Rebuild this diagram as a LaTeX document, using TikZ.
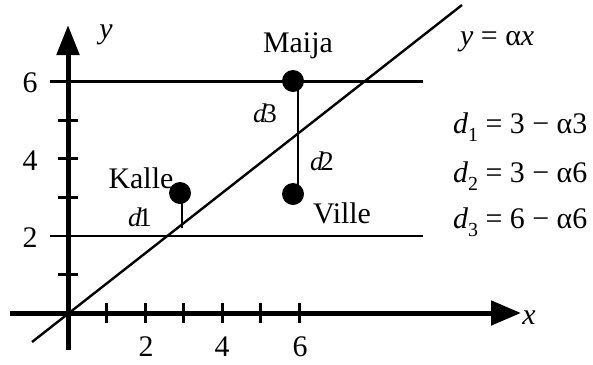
\documentclass[tikz,border=0pt]{standalone}
\usepackage{fontspec}
\setmainfont{Liberation Serif}
\usetikzlibrary{arrows.meta}
\newcommand\dsub[1]{\textit{d}\raisebox{-0.3em}{\fontsize{20}{20}\selectfont #1}}
\newcommand\dlab[1]{\textit{d}\kern-0.12em#1}
\begin{document}
\begin{tikzpicture}[x=1bp,y=-1bp,
  axis/.style={line width=5bp},
  plotline/.style={line width=2.4bp},
  tickmark/.style={line width=3bp},
  dot/.style={circle,fill=black,inner sep=0pt,minimum size=22bp},
  lbl/.style={inner sep=0pt,font=\fontsize{30}{30}\selectfont},
  smalllbl/.style={inner sep=0pt,font=\fontsize{27}{27}\selectfont},
  ]
\useasboundingbox (0,0) rectangle (593,364);
% axes
\coordinate (xs) at (10,313);
\coordinate (xe) at (521,313);
\coordinate (ys) at (68,350);
\coordinate (ye) at (68,25);
\draw[axis,-{Triangle[length=30bp,width=24bp]}] (xs) -- (xe);
\draw[axis,-{Triangle[length=30bp,width=22bp]}] (ys) -- (ye);
% x ticks
\foreach \i in {1,...,6} \draw[tickmark] ({68+38.5*\i},303) -- ({68+38.5*\i},323);
% y ticks
\foreach \i in {1,3,4,5} \draw[tickmark] (58,{313-38.6*\i}) -- (78,{313-38.6*\i});
% horizontal lines y=6, y=2
\coordinate (h6a) at (50,81.4);
\coordinate (h6b) at (423,81.4);
\coordinate (h2a) at (50,235.8);
\coordinate (h2b) at (423,235.8);
\draw[plotline] (h6a) -- (h6b);
\draw[plotline] (h2a) -- (h2b);
% diagonal y = alpha x
\coordinate (da) at (32,342);
\coordinate (db) at (462,5);
\draw[plotline] (da) -- (db);
% distances
\coordinate (k1) at (182,193);
\coordinate (k2) at (182,228);
\draw[plotline] (k1) -- (k2);
\coordinate (m1) at (298,81);
\coordinate (v1) at (298,194);
\draw[plotline] (m1) -- (v1);
% points
\node[dot] (kalle) at (180,193) {};
\node[dot] (maija) at (293,81) {};
\node[dot] (ville) at (293,194) {};
% labels
\node[lbl] (ylab) at (106,35) {\textit{y}};
\node[lbl] (xlab) at (529,318) {\textit{x}};
\node[lbl] (y6) at (30,83) {6};
\node[lbl] (y4) at (30,161) {4};
\node[lbl] (y2) at (30,238) {2};
\node[lbl,anchor=north] (x2) at (146,337) {2};
\node[lbl,anchor=north] (x4) at (222,337) {4};
\node[lbl,anchor=north] (x6) at (300,337) {6};
\node[lbl] (tmaija) at (298,46) {Maija};
\node[lbl] (tkalle) at (141,178) {Kalle};
\node[lbl] (tville) at (342,213) {Ville};
\node[smalllbl] (d1) at (140,217) {\dlab{1}};
\node[smalllbl] (d3) at (265,113) {\dlab{3}};
\node[smalllbl] (d2) at (322,161) {\dlab{2}};
\node[lbl,anchor=base west] (eqy) at (460,45) {\textit{y} = α\textit{x}};
\node[lbl,anchor=base west] (eq1) at (453,133) {\dsub{1} = 3 − α3};
\node[lbl,anchor=base west] (eq2) at (453,182) {\dsub{2} = 3 − α6};
\node[lbl,anchor=base west] (eq3) at (453,228) {\dsub{3} = 6 − α6};
\end{tikzpicture}
\end{document}
